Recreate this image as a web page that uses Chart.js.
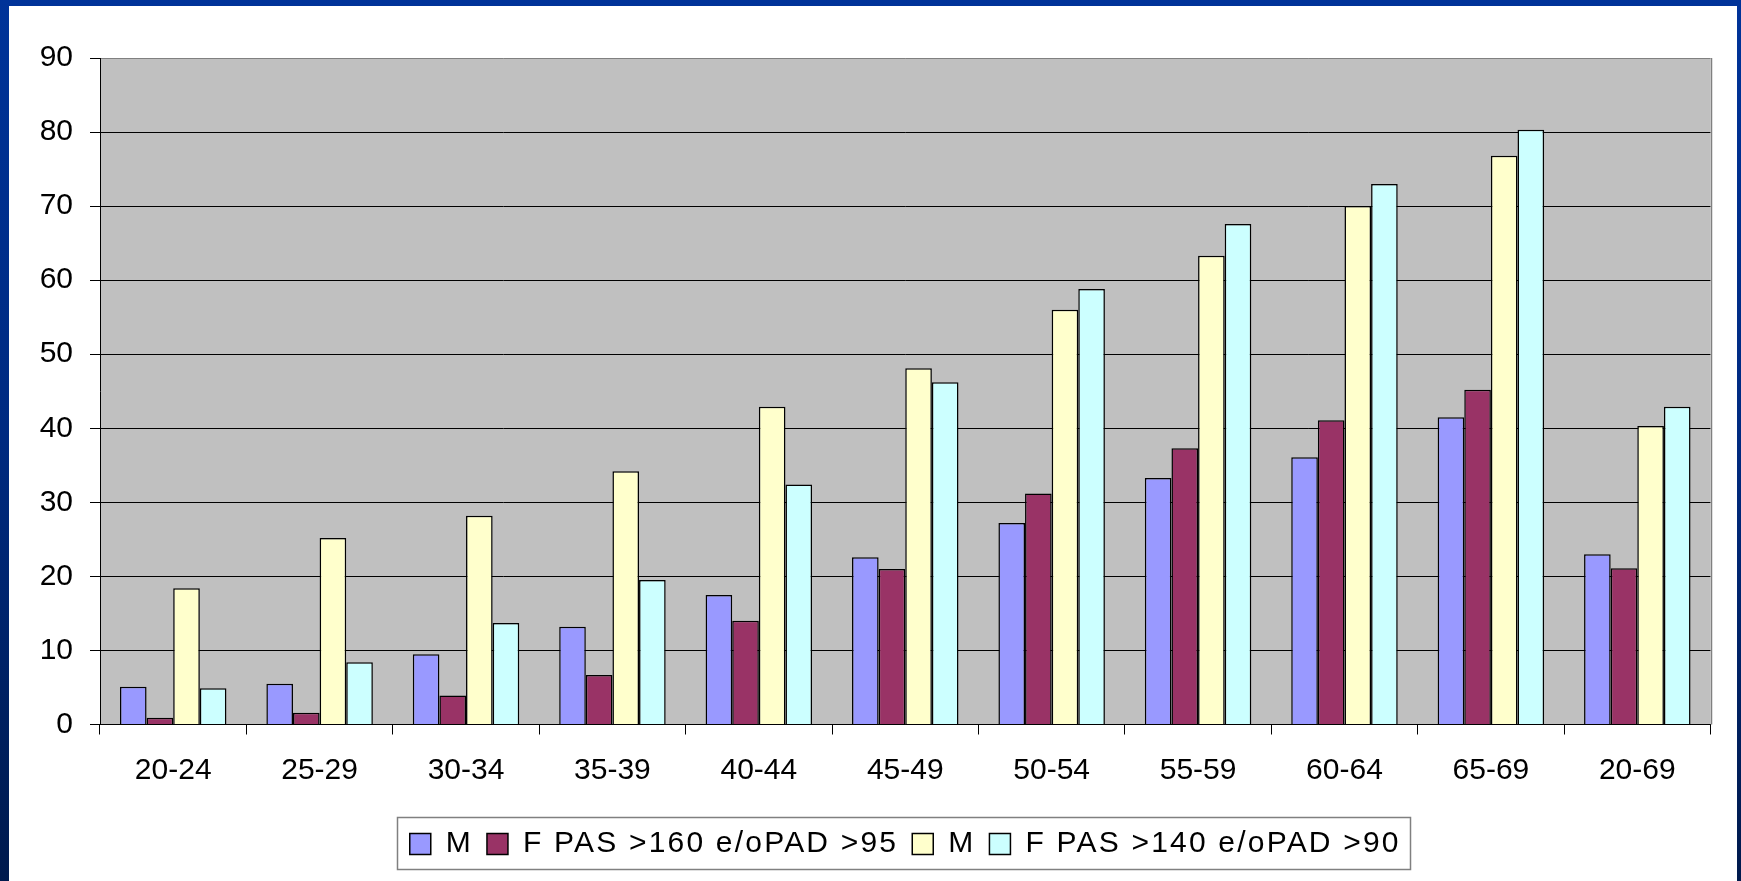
<!DOCTYPE html>
<html>
<head>
<meta charset="utf-8">
<script src="https://cdn.jsdelivr.net/npm/chart.js@4.4.1/dist/chart.umd.min.js"></script>
<style>
  html, body { margin: 0; padding: 0; width: 1741px; height: 881px; overflow: hidden; }
  body { background: linear-gradient(to bottom, #003399 0%, #002a80 50%, #001a4d 100%); position: relative; }
  #sheet { position: absolute; left: 9px; top: 6px; width: 1728px; height: 875px; background: #ffffff; }
  #chart { position: absolute; left: 0; top: 0; }
</style>
</head>
<body>
<div id="sheet"></div>
<canvas id="chart" width="1741" height="881"></canvas>
<script>
// Age groups on the x axis
const ageGroups = ['20-24', '25-29', '30-34', '35-39', '40-44', '45-49', '50-54', '55-59', '60-64', '65-69', '20-69'];

// Series names (legend text)
const seriesNames = ['M', 'F PAS >160 e/oPAD >95', 'M', 'F PAS >140 e/oPAD >90'];

// Prevalence (%) per age group, threshold PAS >160 / PAD >95
const male160 = [5.1, 5.5, 9.5, 13.2, 17.5, 22.6, 27.2, 33.3, 36.1, 41.5, 23.0];
const female160 = [0.9, 1.6, 3.9, 6.7, 14.0, 21.0, 31.2, 37.3, 41.1, 45.2, 21.1];

// Prevalence (%) per age group, threshold PAS >140 / PAD >90
const male140 = [18.4, 25.2, 28.2, 34.2, 42.9, 48.1, 56.0, 63.3, 70.0, 76.8, 40.3];
const female140 = [4.9, 8.4, 13.7, 19.5, 32.4, 46.2, 58.8, 67.6, 73.0, 80.3, 42.9];

// Y axis range
const yMin = 0, yMax = 90, yStep = 10;

const seriesValues = [male160, female160, male140, female140];
const seriesColors = ['#9999ff', '#993366', '#ffffcc', '#ccffff'];

const FONT = { family: "'Liberation Sans', Arial, sans-serif", size: 30 };
const LEGEND_LETTER_SPACING = '2.2px';

// Grey plot background, grey right border, framed legend
const plotDecor = {
  id: 'plotDecor',
  beforeDraw(chart) {
    const { ctx, chartArea: a } = chart;
    ctx.save();
    ctx.fillStyle = '#c0c0c0';
    ctx.fillRect(a.left, a.top, a.right - a.left, a.bottom - a.top);
    ctx.restore();
  },
  afterDraw(chart) {
    const { ctx, chartArea: a } = chart;
    ctx.save();
    ctx.strokeStyle = '#808080';
    ctx.lineWidth = 1.5;
    ctx.beginPath();
    ctx.moveTo(Math.round(a.right) + 0.5, a.top);
    ctx.lineTo(Math.round(a.right) + 0.5, a.bottom);
    ctx.stroke();

    const hb = chart.legend.legendHitBoxes;
    if (hb && hb.length) {
      const first = hb[0], last = hb[hb.length - 1];
      const left = first.left - 13;
      const right = last.left + last.width + 9;
      const top = first.top - 12;
      const bottom = first.top + first.height + 10;
      ctx.strokeStyle = '#808080';
      ctx.lineWidth = 1.5;
      ctx.strokeRect(Math.round(left) + 0.5, Math.round(top) + 0.5, Math.round(right - left), Math.round(bottom - top));
    }
    ctx.restore();
  }
};

const chart = new Chart(document.getElementById('chart'), {
  type: 'bar',
  data: {
    labels: ageGroups,
    datasets: seriesNames.map((name, i) => ({
      label: name,
      data: seriesValues[i],
      backgroundColor: seriesColors[i],
      borderColor: '#000000',
      borderWidth: 1.5,
      categoryPercentage: 4 / 5.5,
      barPercentage: 1.0
    }))
  },
  options: {
    responsive: false,
    animation: false,
    devicePixelRatio: 1,
    layout: { padding: { left: 9, right: 30.5, top: 58, bottom: 12 } },
    plugins: {
      tooltip: { enabled: false },
      legend: {
        position: 'bottom',
        fullSize: false,
        labels: {
          color: '#000000',
          font: FONT,
          boxWidth: 21,
          boxHeight: 21,
          padding: 14
        }
      }
    },
    scales: {
      x: {
        grid: {
          offset: true,
          drawOnChartArea: false,
          drawTicks: true,
          tickLength: 10,
          color: '#000000',
          lineWidth: 1
        },
        border: { color: '#000000', width: 1 },
        ticks: { color: '#000000', font: { ...FONT, lineHeight: 1.2 }, padding: 18, maxRotation: 0 },
        afterFit(scale) { scale.height = 90.5; }
      },
      y: {
        min: yMin,
        max: yMax,
        ticks: { stepSize: yStep, color: '#000000', font: FONT, padding: 17 },
        grid: {
          drawTicks: true,
          tickLength: 10,
          color: (c) => (c.tick && c.tick.value === yMax ? '#808080' : '#000000'),
          tickColor: '#000000',
          lineWidth: 1
        },
        border: { color: '#000000', width: 1 },
        afterFit(scale) { scale.width = 91; }
      }
    }
  },
  plugins: [plotDecor]
});

// Legend text is set with a little extra letter spacing (measured and drawn alike)
const legendBox = chart.legend;
const baseFit = legendBox.fit.bind(legendBox);
const baseDraw = legendBox.draw.bind(legendBox);
legendBox.fit = function () {
  const ctx = chart.ctx;
  const prev = ctx.letterSpacing;
  ctx.letterSpacing = LEGEND_LETTER_SPACING;
  baseFit();
  ctx.letterSpacing = prev || '0px';
};
legendBox.draw = function (area) {
  const ctx = chart.ctx;
  const prev = ctx.letterSpacing;
  ctx.letterSpacing = LEGEND_LETTER_SPACING;
  baseDraw(area);
  ctx.letterSpacing = prev || '0px';
};
chart.update();
</script>
</body>
</html>
